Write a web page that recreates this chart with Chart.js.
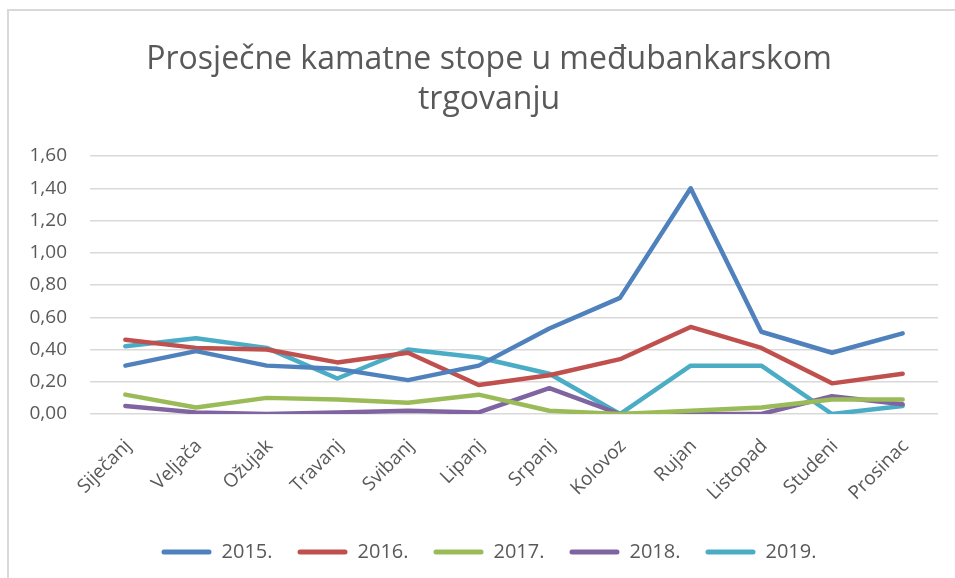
<!DOCTYPE html>
<html>
<head>
<meta charset="utf-8">
<script src="https://cdn.jsdelivr.net/npm/chart.js@4"></script>
<style>
  body { margin: 0; background: #fff; overflow: hidden; }
  #frame { position: absolute; left: 7px; top: 9px; width: 1000px; height: 600px; border-left: 2px solid #d9d9d9; border-top: 2px solid #d9d9d9; }
  #wrap { position: absolute; left: 0; top: 0; width: 955px; height: 578px; }
</style>
</head>
<body>
<div id="frame"></div>
<div id="wrap"><canvas id="chart"></canvas></div>
<script>
// podaci
const months = ['Siječanj', 'Veljača', 'Ožujak', 'Travanj', 'Svibanj', 'Lipanj', 'Srpanj', 'Kolovoz', 'Rujan', 'Listopad', 'Studeni', 'Prosinac']
const y2015 = [0.30, 0.39, 0.30, 0.28, 0.21, 0.30, 0.53, 0.72, 1.40, 0.51, 0.38, 0.50]
const y2016 = [0.46, 0.41, 0.40, 0.32, 0.38, 0.18, 0.24, 0.34, 0.54, 0.41, 0.19, 0.25]
const y2017 = [0.12, 0.04, 0.10, 0.09, 0.07, 0.12, 0.02, 0.00, 0.02, 0.04, 0.09, 0.09]
const y2018 = [0.05, 0.01, 0.00, 0.01, 0.02, 0.01, 0.16, 0.00, 0.00, 0.00, 0.11, 0.06]
const y2019 = [0.42, 0.47, 0.41, 0.22, 0.40, 0.35, 0.25, 0.00, 0.30, 0.30, 0.00, 0.05]
const seriesNames = ['2015.', '2016.', '2017.', '2018.', '2019.']
const colors = ['#4f81bd', '#c0504d', '#9bbb59', '#8064a2', '#4bacc6']

const font = "'Open Sans', sans-serif"
const grey = '#595959'

const datasets = [y2015, y2016, y2017, y2018, y2019].map((vals, i) => ({
  label: seriesNames[i],
  data: vals,
  borderColor: colors[i],
  backgroundColor: colors[i],
  borderWidth: 4.5,
  pointRadius: 0,
  tension: 0,
  borderCapStyle: 'round',
  borderJoinStyle: 'round'
}))

new Chart(document.getElementById('chart'), {
  type: 'line',
  data: { labels: months, datasets: datasets },
  options: {
    responsive: true,
    maintainAspectRatio: false,
    animation: false,
    layout: { padding: { left: 23, right: 0, top: 0, bottom: 6 } },
    scales: {
      x: {
        offset: true,
        grid: { display: false },
        border: { display: false },
        ticks: { color: grey, font: { family: font, size: 19 }, minRotation: 45, maxRotation: 45, padding: 13, labelOffset: 3 },
        afterFit: (s) => { s.height = 103 }
      },
      y: {
        min: 0,
        max: 1.6,
        grid: { color: '#d9d9d9', lineWidth: 1.5, drawTicks: false },
        border: { display: false },
        ticks: {
          stepSize: 0.2,
          color: grey,
          padding: 23,
          font: { family: font, size: 19 },
          callback: (v) => v.toFixed(2).replace('.', ',')
        },
        afterFit: (s) => { s.width = 67 }
      },
      // prazna desna os, samo za razmak
      yRight: {
        position: 'right',
        grid: { display: false },
        border: { display: false },
        ticks: { display: false },
        afterFit: (s) => { s.width = 17 }
      }
    },
    plugins: {
      title: {
        display: true,
        text: ['Prosječne kamatne stope u međubankarskom', 'trgovanju'],
        color: grey,
        font: { family: font, size: 32, weight: 'normal', lineHeight: 1.25 },
        padding: { top: 40, bottom: 36 }
      },
      legend: {
        position: 'bottom',
        labels: {
          color: grey,
          font: { family: font, size: 20 },
          boxWidth: 50,
          boxHeight: 5,
          padding: 25,
          generateLabels: (chart) => chart.data.datasets.map((d, i) => ({
            text: d.label,
            fillStyle: d.borderColor,
            strokeStyle: d.borderColor,
            lineWidth: 0,
            borderRadius: 2.5,
            fontColor: grey,
            datasetIndex: i
          }))
        }
      },
      tooltip: { enabled: false }
    }
  }
})
</script>
</body>
</html>
